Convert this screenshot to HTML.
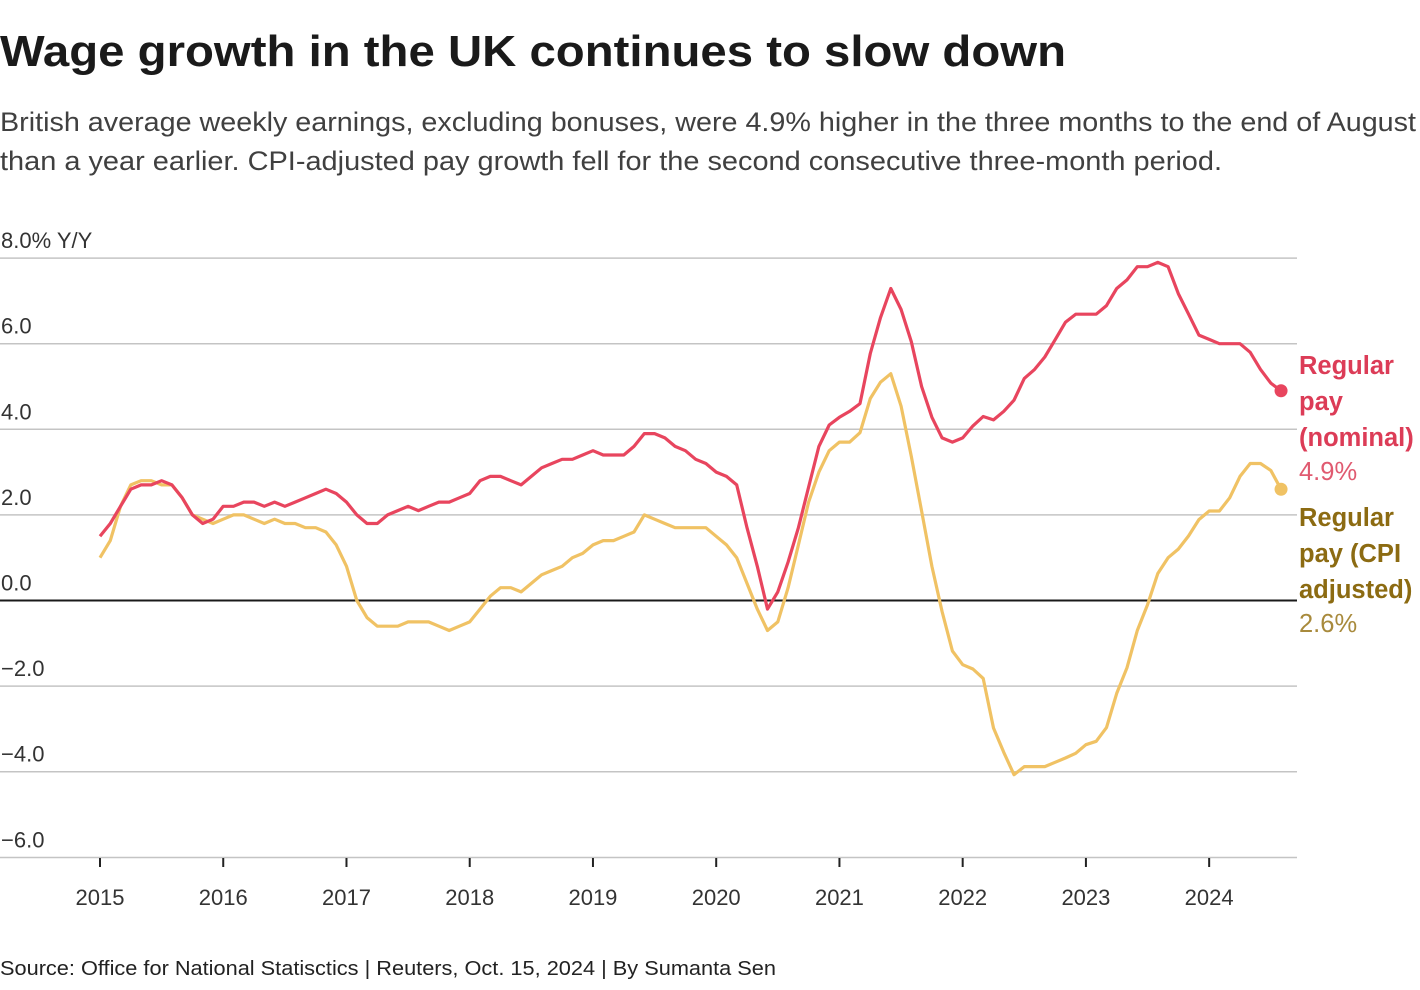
<!DOCTYPE html>
<html><head><meta charset="utf-8"><style>
html,body{margin:0;padding:0;background:#fff;width:1420px;height:990px;overflow:hidden}
svg{display:block;font-family:"Liberation Sans",sans-serif}
</style></head><body>
<svg id="chart" width="1420" height="990" viewBox="0 0 1420 990" xmlns="http://www.w3.org/2000/svg">
<text x="0" y="66" font-size="44" font-weight="bold" fill="#1a1a1a" textLength="1066" lengthAdjust="spacingAndGlyphs">Wage growth in the UK continues to slow down</text>
<text x="0" y="131" font-size="27" fill="#404040" textLength="1416" lengthAdjust="spacingAndGlyphs">British average weekly earnings, excluding bonuses, were 4.9% higher in the three months to the end of August</text>
<text x="0" y="170" font-size="27" fill="#404040" textLength="1222" lengthAdjust="spacingAndGlyphs">than a year earlier. CPI-adjusted pay growth fell for the second consecutive three-month period.</text>
<g id="grid"></g>
<g id="series"></g>
<g font-size="25.5">
<text font-weight="bold" fill="#dc3c57"><tspan x="1299" y="374">Regular</tspan><tspan x="1299" y="410">pay</tspan><tspan x="1299" y="446">(nominal)</tspan></text>
<text x="1299" y="480" fill="#e05a70">4.9%</text>
<text font-weight="bold" fill="#8c6b12"><tspan x="1299" y="526">Regular</tspan><tspan x="1299" y="562">pay (CPI</tspan><tspan x="1299" y="598">adjusted)</tspan></text>
<text x="1299" y="632" fill="#a88a3c">2.6%</text>
</g>
<text x="0" y="975" font-size="20" fill="#222" textLength="776" lengthAdjust="spacingAndGlyphs">Source: Office for National Statisctics | Reuters, Oct. 15, 2024 | By Sumanta Sen</text>
</svg>
<script>
const nominal = [
1.5,1.8,2.2,2.6,2.7,2.7,2.8,2.7,2.4,2.0,1.8,1.9,
2.2,2.2,2.3,2.3,2.2,2.3,2.2,2.3,2.4,2.5,2.6,2.5,
2.3,2.0,1.8,1.8,2.0,2.1,2.2,2.1,2.2,2.3,2.3,2.4,
2.5,2.8,2.9,2.9,2.8,2.7,2.9,3.1,3.2,3.3,3.3,3.4,
3.5,3.4,3.4,3.4,3.6,3.9,3.9,3.8,3.6,3.5,3.3,3.2,
3.0,2.9,2.7,1.7,0.8,-0.2,0.2,0.9,1.7,2.65,3.6,4.1,
4.28,4.42,4.6,5.77,6.61,7.29,6.8,6.05,5.0,4.28,3.8,3.7,
3.8,4.08,4.3,4.22,4.42,4.68,5.19,5.4,5.69,6.09,6.5,6.69,
6.69,6.69,6.89,7.29,7.49,7.8,7.8,7.9,7.8,7.17,6.69,6.2,
6.1,6.0,6.0,6.0,5.8,5.4,5.08,4.9];
const cpiAdjusted = [
1.0,1.4,2.2,2.7,2.8,2.8,2.7,2.7,2.4,2.0,1.9,1.8,
1.9,2.0,2.0,1.9,1.8,1.9,1.8,1.8,1.7,1.7,1.6,1.3,
0.8,0.0,-0.4,-0.6,-0.6,-0.6,-0.5,-0.5,-0.5,-0.6,-0.7,-0.6,
-0.5,-0.2,0.1,0.3,0.3,0.2,0.4,0.6,0.7,0.8,1.0,1.1,
1.3,1.4,1.4,1.5,1.6,2.0,1.9,1.8,1.7,1.7,1.7,1.7,
1.5,1.3,1.0,0.4,-0.2,-0.7,-0.5,0.3,1.3,2.3,3.0,3.5,
3.7,3.7,3.92,4.72,5.1,5.3,4.54,3.37,2.09,0.8,-0.26,-1.18,
-1.5,-1.6,-1.82,-2.98,-3.55,-4.07,-3.88,-3.88,-3.88,-3.78,-3.68,-3.57,
-3.37,-3.29,-2.97,-2.17,-1.57,-0.7,-0.1,0.63,1.0,1.2,1.51,1.89,
2.09,2.09,2.4,2.9,3.2,3.2,3.04,2.6];
const yTicks = [8,6,4,2,0,-2,-4,-6];
const yTickLabels = ["8.0% Y/Y","6.0","4.0","2.0","0.0","\u22122.0","\u22124.0","\u22126.0"];
const years = [2015,2016,2017,2018,2019,2020,2021,2022,2023,2024];

const NS="http://www.w3.org/2000/svg";
const x0=100, monthW=10.27;
function xScale(i){return x0+i*monthW;}
function yScale(v){return 600.5-v*42.8;}
function mk(tag,attrs,parent){const e=document.createElementNS(NS,tag);for(const k in attrs)e.setAttribute(k,attrs[k]);parent.appendChild(e);return e;}
const grid=document.getElementById('grid');
yTicks.forEach((t,i)=>{
  const y=yScale(t);
  if(t!==-6){
    const l=mk('line',{x1:0,x2:1297,y1:y,y2:y,stroke:t===0?'#1a1a1a':'#c4c4c4','stroke-width':t===0?2:1.5},grid);
    
    
  }
  const tx=mk('text',{x:1,y:y-10,'font-size':22,fill:'#333'},grid);
  tx.textContent=yTickLabels[i];
  
  
});
const ax=mk('line',{x1:0,x2:1297,y1:857.5,y2:857.5,stroke:'#c4c4c4','stroke-width':1.5},grid);


years.forEach((yr,i)=>{
  const x=xScale(i*12);
  const tk=mk('line',{x1:x,x2:x,y1:858,y2:867,stroke:'#222','stroke-width':2},grid);
  
  
  const t=mk('text',{x:x,y:905,'font-size':22,fill:'#333','text-anchor':'middle'},grid);
  t.textContent=yr;
  
  
});
const ser=document.getElementById('series');
function drawLine(arr,color,name){
  const d=arr.map((v,i)=>(i?'L':'M')+xScale(i).toFixed(1)+','+yScale(v).toFixed(1)).join('');
  const p=mk('path',{d:d,fill:'none',stroke:color,'stroke-width':3.2,'stroke-linejoin':'round'},ser);
  
  
  const n=arr.length-1;
  const c=mk('circle',{cx:xScale(n),cy:yScale(arr[n]),r:6.5,fill:color},ser);
  
  
}
drawLine(cpiAdjusted,'#f0c264','cpi-adjusted');
drawLine(nominal,'#e8455e','nominal');
</script>
</body></html>
